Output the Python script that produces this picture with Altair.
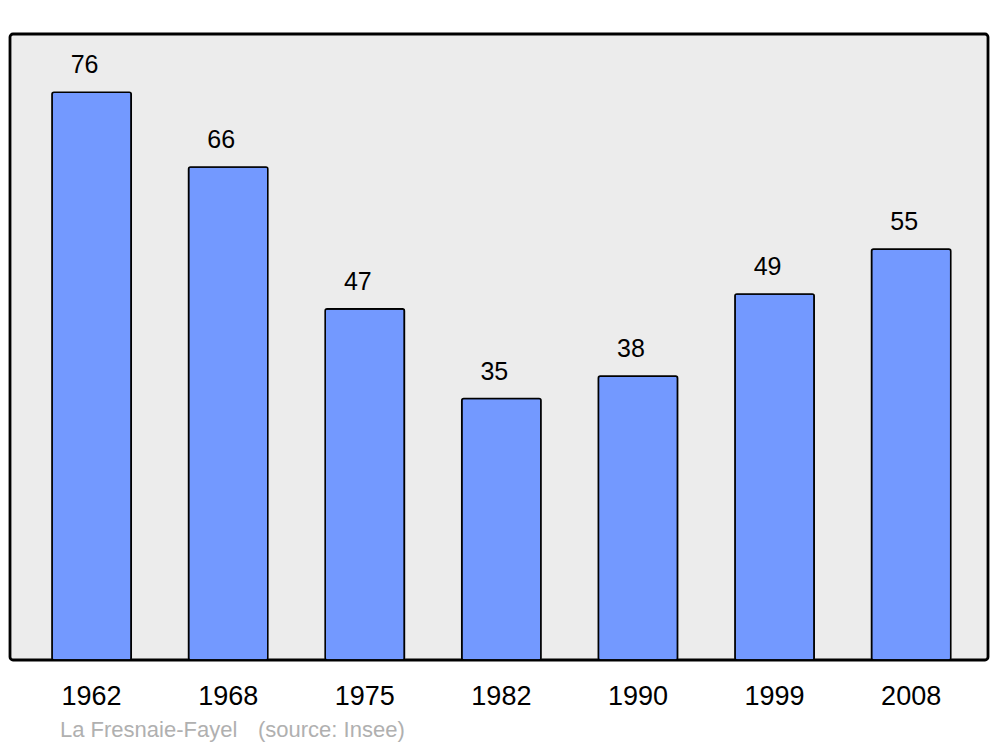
import altair as alt
import pandas as pd

years = ["1962", "1968", "1975", "1982", "1990", "1999", "2008"]
population = [76, 66, 47, 35, 38, 49, 55]
place = "La Fresnaie-Fayel"
source = "(source: Insee)"

df = pd.DataFrame({"year": years, "pop": population})

FONT = "Liberation Sans"

x = alt.X("year:N", sort=years,
          scale=alt.Scale(paddingInner=0.42, paddingOuter=0.29, align=0.53),
          axis=alt.Axis(title=None, labelAngle=0, ticks=False, domain=False,
                        labelFontSize=27, labelFont=FONT, labelColor="black",
                        labelBaseline="alphabetic", labelPadding=44, grid=False))
y = alt.Y("pop:Q", scale=alt.Scale(domain=[0, 83.8], nice=False, zero=True), axis=None)

bars = alt.Chart(df).mark_bar(
    fill="#7399ff", stroke="black", strokeWidth=1.6, cornerRadius=2
).encode(x=x, y=y)

labels = alt.Chart(df).mark_text(
    font=FONT, fontSize=25, color="black", baseline="alphabetic", dy=-19, dx=-7
).encode(x=x, y=y, text="pop:Q")

src1 = alt.Chart(pd.DataFrame({"t": [place]})).mark_text(
    font=FONT, fontSize=22, color="#b0b0b0", align="left", baseline="alphabetic"
).encode(x=alt.value(50), y=alt.value(703), text="t:N")

src2 = alt.Chart(pd.DataFrame({"t": [source]})).mark_text(
    font=FONT, fontSize=22, color="#b0b0b0", align="left", baseline="alphabetic"
).encode(x=alt.value(248), y=alt.value(703), text="t:N")

chart = alt.layer(bars, labels, src1, src2).properties(
    width=978, height=626,
    padding={"left": 2, "top": 26, "right": 2, "bottom": 2},
    background="white",
).configure_view(
    fill="#ececec", stroke="black", strokeWidth=2.8, cornerRadius=3
)

chart.save("out.html", embed_options={"renderer": "svg", "actions": False})
